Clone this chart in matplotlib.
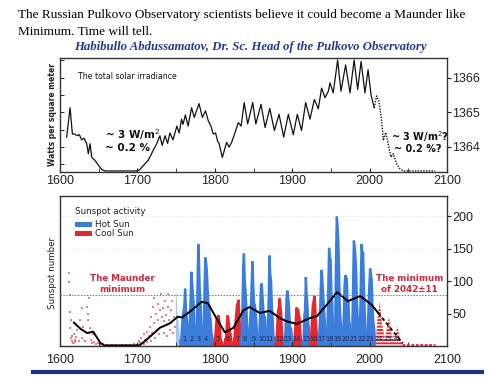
import numpy as np
import matplotlib
matplotlib.use('Agg')
import matplotlib.pyplot as plt
from matplotlib.patches import Rectangle
from matplotlib.lines import Line2D

# ---------------- data ----------------
tsi_years = [1608.6, 1613, 1616, 1619, 1622, 1625, 1628, 1631, 1634.5, 1636.6, 1638.8, 1641, 1645,
             1649.5, 1654, 1658, 1700, 1703, 1714, 1720.5, 1725, 1729, 1732, 1735.7, 1739, 1742, 1746,
             1751, 1754, 1757, 1759, 1762, 1765.5, 1770, 1773.5, 1779.6, 1784, 1788, 1791.6, 1795,
             1798, 1801, 1803.7, 1805.5, 1809.7, 1815.3, 1818.4, 1821.8, 1826, 1830.4, 1834, 1838,
             1842.5, 1849, 1853, 1859.7, 1865, 1871, 1877, 1883, 1889, 1895, 1901.4, 1906.6, 1912,
             1917.4, 1923, 1928.6, 1933.7, 1938, 1942.4, 1946.7, 1948.8, 1953, 1958.7, 1963, 1969,
             1974.7, 1980, 1984.6, 1989, 1994, 1998, 2001.8, 2006]
tsi_values = [1364.28, 1365.13, 1364.37, 1364.37, 1364.32, 1364.35, 1364.20, 1364.25, 1364.09, 1363.80,
              1364.09, 1363.70, 1363.61, 1363.47, 1363.34, 1363.30, 1363.30, 1363.34, 1363.61, 1363.90,
              1364.09, 1364.32, 1364.04, 1364.32, 1364.10, 1364.40, 1364.20, 1364.60, 1364.40, 1364.80,
              1364.65, 1364.92, 1364.60, 1365.13, 1364.85, 1365.25, 1364.85, 1365.04, 1364.75, 1364.60,
              1364.37, 1364.40, 1364.16, 1364.10, 1363.69, 1364.13, 1363.99, 1364.13, 1364.40, 1364.70,
              1364.60, 1365.28, 1364.66, 1365.28, 1364.66, 1365.23, 1364.56, 1365.11, 1364.47, 1364.94,
              1364.28, 1364.94, 1364.35, 1364.94, 1364.47, 1365.28, 1364.80, 1365.37, 1365.10, 1365.70,
              1365.42, 1365.61, 1365.85, 1365.56, 1366.51, 1365.61, 1366.37, 1365.56, 1366.51, 1365.66,
              1366.47, 1365.56, 1366.23, 1365.51, 1365.13]
tsi_proj_years = [2006, 2009, 2012, 2015.6, 2017.7, 2020.8, 2024, 2027.6, 2030.6, 2035, 2039, 2043.5, 2084.5]
tsi_proj_values = [1365.13, 1365.47, 1365.32, 1364.75, 1364.18, 1364.42, 1364.09, 1363.70, 1363.80,
                   1363.50, 1363.37, 1363.30, 1363.30]

ss_years = list(range(1749, 2009))
ss_values = [80.9, 83.4, 47.7, 47.8, 30.7, 12.2, 9.6, 10.2, 32.4, 47.6, 54.0, 62.9, 89.0, 61.2, 45.1,
             36.4, 20.9, 11.4, 37.8, 69.8, 115.0, 100.8, 81.6, 66.5, 34.8, 30.6, 7.0, 19.8, 92.5, 158.0,
             125.9, 84.8, 68.1, 38.5, 22.8, 10.2, 24.1, 82.9, 137.0, 130.9, 118.1, 89.9, 66.6, 60.0, 46.9,
             41.0, 21.3, 16.0, 6.4, 4.1, 6.8, 14.5, 34.0, 45.0, 43.1, 48.0, 42.2, 28.1, 10.1, 8.1,
             2.5, 0.0, 1.4, 5.0, 12.2, 13.9, 35.4, 48.0, 41.1, 30.1, 23.9, 15.6, 6.6, 4.0, 1.8,
             8.5, 16.6, 36.3, 49.6, 64.2, 67.0, 72.0, 47.8, 27.5, 8.5, 13.2, 56.9, 121.5, 143.0, 103.2,
             85.7, 64.6, 36.7, 24.2, 10.7, 15.0, 40.1, 61.5, 98.5, 131.0, 96.3, 66.6, 64.5, 54.1, 39.0,
             20.6, 6.7, 4.3, 22.7, 54.8, 93.8, 97.0, 77.2, 59.1, 44.0, 47.0, 30.5, 16.3, 7.3, 37.6,
             74.0, 140.0, 111.2, 101.6, 66.2, 44.7, 17.0, 11.3, 12.4, 3.4, 6.0, 32.3, 54.3, 59.7, 74.0,
             63.5, 52.2, 25.4, 13.1, 6.8, 6.3, 7.1, 35.6, 73.0, 86.0, 78.0, 64.0, 41.8, 26.2, 26.7,
             12.1, 9.5, 2.7, 5.0, 24.4, 42.0, 60.0, 53.8, 58.0, 48.5, 43.9, 18.6, 5.7, 3.6, 1.4,
             9.6, 47.4, 57.1, 107.0, 80.6, 63.6, 37.6, 26.1, 14.2, 5.8, 16.7, 44.3, 63.9, 69.0, 78.0,
             64.9, 35.7, 21.2, 11.1, 5.7, 8.7, 36.1, 79.7, 118.0, 109.6, 88.8, 67.8, 47.5, 30.6, 16.3,
             9.6, 33.2, 92.6, 152.0, 136.3, 134.7, 83.9, 69.4, 31.5, 13.9, 4.4, 38.0, 141.7, 200.0, 184.8,
             159.0, 112.3, 53.9, 37.6, 27.9, 10.2, 15.1, 47.0, 93.8, 110.0, 105.5, 104.5, 66.6, 68.9, 38.0,
             34.5, 15.5, 12.6, 27.5, 92.5, 163.0, 154.6, 140.4, 115.9, 66.6, 45.9, 17.9, 13.4, 29.4, 100.2,
             158.0, 142.6, 145.7, 94.3, 54.6, 29.9, 17.5, 8.6, 21.5, 64.3, 93.3, 120.0, 111.0, 104.0, 63.7,
             40.4, 29.8, 15.2, 7.5, 2.9]

cycle_bounds = [1755, 1766, 1775, 1784, 1798, 1810, 1823, 1833, 1843, 1856, 1867, 1878, 1889,
                1901, 1913, 1923, 1933, 1944, 1954, 1964, 1976, 1986, 1996, 2008]
cycle_hot = [True, True, True, True, False, False, False, True, True, True, True, False, True,
             False, True, False, True, True, True, True, True, True, True]
cycle_label_years = [1761, 1770, 1779, 1789, 1804, 1816, 1829, 1838, 1850, 1861, 1871, 1884, 1894,
                     1906, 1918, 1928, 1938, 1948, 1958, 1969, 1980, 1990, 2000, 2012, 2023, 2034]
cycle_labels = [str(i) for i in range(1, 27)]

future_years = [2008, 2010, 2013, 2016, 2020, 2022, 2025, 2028, 2031, 2033, 2036, 2039, 2042]
future_values = [5, 40, 68, 35, 8, 25, 45, 20, 6, 15, 30, 12, 3]
tail_years = [2042, 2085]
tail_values = [2, 2]

smooth_years = [1618, 1627, 1635, 1643, 1652, 1657, 1703, 1716, 1729, 1742, 1752, 1758, 1770, 1783,
                1791, 1802, 1813, 1824, 1837, 1845, 1858, 1871, 1884, 1893, 1906, 1923, 1932, 1945,
                1958, 1972, 1988, 2003, 2011]
smooth_values = [36, 26, 20, 22, 5, 1, 1, 14, 28, 35, 45, 44, 55, 68, 66, 43, 21, 28, 55, 60, 51, 54,
                 43, 38, 34, 43, 46, 64, 83, 69, 77, 63, 51]
smooth_proj_years = [2011, 2043]
smooth_proj_values = [51, 4]

maunder_pts = [(1612, 112), (1612, 99), (1613, 78), (1613, 53), (1613, 28), (1614, 12), (1614, 40),
               (1615, 8), (1616, 15), (1617, 5), (1618, 18), (1619, 10), (1620, 6), (1621, 14),
               (1622, 25), (1624, 8), (1626, 40), (1628, 58), (1629, 12), (1630, 30), (1632, 8),
               (1635, 60), (1636, 50), (1636, 40), (1637, 20), (1638, 74), (1639, 28), (1640, 10),
               (1641, 5), (1642, 18), (1644, 6), (1646, 3), (1649, 5), (1652, 2), (1656, 3), (1661, 2),
               (1667, 1), (1672, 2), (1680, 1), (1685, 2), (1690, 1), (1695, 3), (1700, 2), (1702, 8),
               (1703, 4), (1705, 12), (1706, 5), (1708, 18), (1709, 3), (1710, 10), (1712, 22),
               (1713, 6), (1715, 15), (1716, 30), (1717, 8), (1718, 45), (1719, 20), (1720, 60),
               (1721, 35), (1722, 74), (1723, 12), (1724, 50), (1725, 25), (1726, 40), (1727, 65),
               (1728, 18), (1729, 55), (1730, 80), (1731, 30), (1732, 45), (1733, 58), (1734, 20),
               (1735, 38), (1736, 70), (1737, 48), (1738, 15), (1739, 80), (1740, 60), (1741, 40),
               (1742, 25), (1743, 55), (1744, 35), (1745, 70), (1746, 20), (1747, 45), (1748, 30)]
maunder_years = [p[0] for p in maunder_pts]
maunder_values = [p[1] for p in maunder_pts]

# ---------------- styling ----------------
BLUE = '#3b7ddd'
RED = '#e8272d'
TXTRED = '#d0283c'
NAVY = '#1a3480'
TICKFONT = ['Liberation Sans', 'DejaVu Sans']
TICKSIZE = 9.0
plt.rcParams['hatch.linewidth'] = 1.0

fig = plt.figure(figsize=(5, 3.9), dpi=100)
fig.patch.set_facecolor('white')

serif = ['Liberation Serif', 'DejaVu Serif']
fig.text(18/500, 1-15/390, "The Russian Pulkovo Observatory scientists believe it could become a Maunder like",
         family=serif, fontsize=9.5, va='center', ha='left')
fig.text(18/500, 1-32/390, "Minimum. Time will tell.", family=serif, fontsize=9.5, va='center', ha='left')
fig.text(250/500, 1-47/390, "Habibullo Abdussamatov, Dr. Sc. Head of the Pulkovo Observatory",
         family=serif, style='italic', weight='bold', color='#22398a', fontsize=9.2,
         va='center', ha='center')

def style_spines(ax):
    for s in ax.spines.values():
        s.set_color('#333333')
        s.set_linewidth(1.0)

# ---------------- top panel ----------------
ax1 = fig.add_axes([60/500, 1-172/390, 387/500, 114/390])
ax1.plot(tsi_years, tsi_values, color='#111111', lw=0.9)
ax1.plot(tsi_proj_years, tsi_proj_values, color='#111111', lw=1.0, ls=(0, (1, 1)))
ax1.set_xlim(1600, 2100)
ax1.set_ylim(1363.27, 1366.57)
style_spines(ax1)
ax1.set_yticks([1364, 1365, 1366])
ax1.yaxis.set_minor_locator(matplotlib.ticker.FixedLocator(np.arange(1363.5, 1366.6, 0.5)))
ax1.yaxis.remove_overlapping_locs = False
ax1.tick_params(axis='y', which='major', left=False, right=True, labelleft=False, labelright=True,
                direction='out', length=3, pad=1, labelsize=TICKSIZE, colors='#222222')
ax1.tick_params(axis='y', which='minor', left=True, right=False, direction='in', length=3)
ax1.set_xticks(range(1600, 2101, 100))
ax1.xaxis.set_minor_locator(matplotlib.ticker.FixedLocator(range(1650, 2100, 100)))
ax1.tick_params(axis='x', which='both', direction='in', length=3, labelsize=TICKSIZE, pad=2, colors='#222222')
for lab in ax1.get_xticklabels() + ax1.get_yticklabels():
    lab.set_family(TICKFONT)
ax1.text(0.047, 0.84, "The total solar irradiance", transform=ax1.transAxes, fontsize=5.6,
         ha='left', va='center', color='#111111')
ax1.text(0.116, 0.325, "~ 3 W/m$^2$", transform=ax1.transAxes, fontsize=7.5, ha='left', va='center',
         weight='bold', color='#111111')
ax1.text(0.116, 0.21, "~ 0.2 %", transform=ax1.transAxes, fontsize=7.5, ha='left', va='center',
         weight='bold', color='#111111')
ax1.text(0.855, 0.31, "~ 3 W/m$^2$?", transform=ax1.transAxes, fontsize=7, ha='left', va='center',
         weight='bold', color='#111111')
ax1.text(0.862, 0.20, "~ 0.2 %?", transform=ax1.transAxes, fontsize=7, ha='left', va='center',
         weight='bold', color='#111111')
ax1.text(-0.02, 0.5, "Watts per square meter", transform=ax1.transAxes, rotation=90, fontsize=5.5,
         ha='center', va='center', weight='bold', color='#222222')

# ---------------- bottom panel ----------------
ax2 = fig.add_axes([60/500, 1-346/390, 387/500, 150/390])
ax2.set_xlim(1600, 2100)
ax2.set_ylim(0, 231)
style_spines(ax2)

ss_y = np.array(ss_years)
ss_v = np.array(ss_values)
# cycle 0 (before first minimum), lighter
m0 = ss_y <= cycle_bounds[0]
ax2.fill_between(ss_y[m0], 0, ss_v[m0], color=BLUE, alpha=0.45, lw=0)
for i in range(len(cycle_bounds) - 1):
    a, b = cycle_bounds[i], cycle_bounds[i + 1]
    m = (ss_y >= a) & (ss_y <= b)
    c = BLUE if cycle_hot[i] else RED
    ax2.fill_between(ss_y[m], 0, ss_v[m], facecolor=c, edgecolor=c, lw=1.7, joinstyle='miter')

ax2.fill_between(future_years, 0, future_values, facecolor=RED, edgecolor='white', hatch='-----', lw=0)
ax2.plot(tail_years, tail_values, color=RED, lw=2.0, ls=(0, (1, 0.6)))

ax2.scatter(maunder_years, maunder_values, marker='s', s=3.5, color=RED, alpha=0.6, lw=0)

ax2.plot(smooth_years, smooth_values, color='black', lw=1.4, solid_joinstyle='round')
ax2.plot(smooth_proj_years, smooth_proj_values, color='black', lw=1.3, ls=(0, (2, 1.5)))

for yv in (150, 200):
    ax2.axhline(yv, color='#d8d8d8', lw=0.6, ls=(0, (1, 2)), zorder=0)
ax2.axhline(78, color='#777777', lw=0.7, ls=(0, (1.5, 1.5)), zorder=3)

for yr, lab in zip(cycle_label_years, cycle_labels):
    ax2.text(yr, 11, lab, fontsize=4.8, ha='center', va='center', color='#1d2a55', zorder=4)

ax2.set_yticks([50, 100, 150, 200])
ax2.tick_params(axis='y', left=False, right=True, labelleft=False, labelright=True, direction='out',
                length=3, pad=1, labelsize=TICKSIZE, colors='#222222')
ax2.set_xticks(range(1600, 2101, 100))
ax2.xaxis.set_minor_locator(matplotlib.ticker.FixedLocator(range(1650, 2100, 100)))
ax2.tick_params(axis='x', which='both', direction='in', length=3, labelsize=TICKSIZE, pad=6, colors='#222222')
for lab in ax2.get_xticklabels() + ax2.get_yticklabels():
    lab.set_family(TICKFONT)

ax2.text(-0.02, 0.487, "Sunspot number", transform=ax2.transAxes, rotation=90, fontsize=6.3,
         ha='center', va='center', color='#222222')

# legend
ax2.text(0.039, 0.9, "Sunspot activity", transform=ax2.transAxes, fontsize=6.3, ha='left', va='center',
         color='#222222')
ax2.add_patch(Rectangle((0.039, 0.793), 0.044, 0.034, transform=ax2.transAxes, color=BLUE, lw=0))
ax2.add_patch(Rectangle((0.039, 0.733), 0.044, 0.034, transform=ax2.transAxes, color=RED, lw=0))
ax2.text(0.09, 0.81, "Hot Sun", transform=ax2.transAxes, fontsize=6.3, ha='left', va='center',
         color='#222222')
ax2.text(0.09, 0.75, "Cool Sun", transform=ax2.transAxes, fontsize=6.3, ha='left', va='center',
         color='#222222')

ax2.text(0.16, 0.413, "The Maunder\nminimum", transform=ax2.transAxes, fontsize=6.3, ha='center',
         va='center', color=TXTRED, weight='bold', linespacing=1.2)
ax2.text(0.904, 0.413, "The minimum\nof 2042\u00b111", transform=ax2.transAxes, fontsize=6.3, ha='center',
         va='center', color=TXTRED, weight='bold', linespacing=1.2)

fig.add_artist(Line2D([33/500, 482/500], [1-372/390, 1-372/390], color=NAVY, lw=3,
                      transform=fig.transFigure))

fig.savefig('out.png', dpi=100)
